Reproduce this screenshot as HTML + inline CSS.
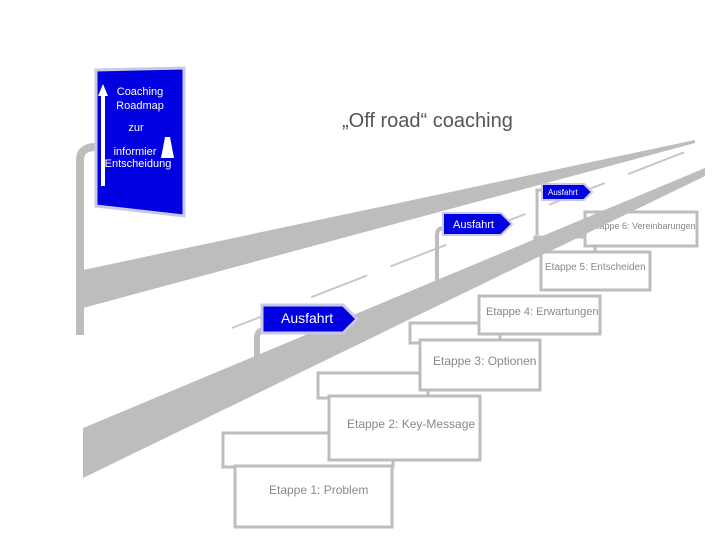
<!DOCTYPE html>
<html><head><meta charset="utf-8"><style>
body{margin:0;background:#fff;width:720px;height:540px;overflow:hidden}
svg{display:block}
text{font-family:"Liberation Sans",sans-serif}
</style></head><body>
<svg width="720" height="540" viewBox="0 0 720 540">
<g fill="#fff" stroke="#bdbdbd" stroke-width="3">
 <rect x="223" y="433" width="170" height="34"/>
 <rect x="235" y="466" width="157" height="61"/>
 <rect x="318" y="373" width="110" height="25"/>
 <rect x="329" y="396" width="151" height="64"/>
 <rect x="410" y="323" width="90" height="20"/>
 <rect x="420" y="340" width="120" height="50"/>
 <rect x="479" y="296" width="121" height="38"/>
 <rect x="535" y="237" width="60" height="18"/>
 <rect x="541" y="252" width="109" height="38"/>
 <rect x="585" y="212" width="112" height="34"/>
</g>
<g fill="#888" font-size="12">
 <text x="269" y="494">Etappe 1: Problem</text>
 <text x="347" y="428">Etappe 2: Key-Message</text>
 <text x="433" y="365">Etappe 3: Optionen</text>
 <text x="486" y="315" font-size="11">Etappe 4: Erwartungen</text>
 <text x="545" y="270" font-size="10">Etappe 5: Entscheiden</text>
 <text x="591" y="229" font-size="9">Etappe 6: Vereinbarungen</text>
</g>
<!-- roads -->
<polygon points="83,270 695,140 695,143 83,308" fill="#bdbdbd"/>
<polygon points="83,428 705,168 705,176 83,478" fill="#bdbdbd"/>
<g stroke="#c8c8c8" stroke-width="2" stroke-dasharray="60,25">
 <line x1="232" y1="328" x2="690" y2="150"/>
</g>
<!-- big sign post -->
<path d="M80,335 V160 Q80,147 96,147" fill="none" stroke="#bdbdbd" stroke-width="8"/>
<polygon points="96,70 184,68 184,216 96,206" fill="#0000e0" stroke="#c8c8e8" stroke-width="3"/>
<polygon points="103,84 108,96 105,96 105,186 101,186 101,96 98,96" fill="#fff"/>
<polygon points="165,137 170,137 174,158 161,158" fill="#fff"/>
<g fill="#fff" font-size="11" text-anchor="middle">
 <text x="140" y="95">Coaching</text>
 <text x="140" y="109">Roadmap</text>
 <text x="136" y="131">zur</text>
 <text x="135" y="155">informier</text>
 <text x="138" y="167">Entscheidung</text>
</g>
<text x="342" y="127" font-size="20" fill="#555">„Off road“ coaching</text>
<!-- exit signs -->
<path d="M257,360 V338 Q257,330 265,330" fill="none" stroke="#bdbdbd" stroke-width="6"/>
<polygon points="262,305 343,305 357,319 343,333 262,333" fill="#0000e0" stroke="#c8c8e8" stroke-width="3"/>
<text x="281" y="323" font-size="14" fill="#fff">Ausfahrt</text>
<path d="M437,285 V235 Q437,228 444,228" fill="none" stroke="#bdbdbd" stroke-width="4"/>
<polygon points="443,213 501,213 512,224 501,235 443,235" fill="#0000e0" stroke="#c8c8e8" stroke-width="2"/>
<text x="453" y="228" font-size="11" fill="#fff">Ausfahrt</text>
<path d="M537,235 V190 H542" fill="none" stroke="#bdbdbd" stroke-width="3"/>
<polygon points="542,184 584,184 592,192 584,200 542,200" fill="#0000e0" stroke="#c8c8e8" stroke-width="2"/>
<text x="548" y="195" font-size="8" fill="#fff">Ausfahrt</text>
</svg>
</body></html>
